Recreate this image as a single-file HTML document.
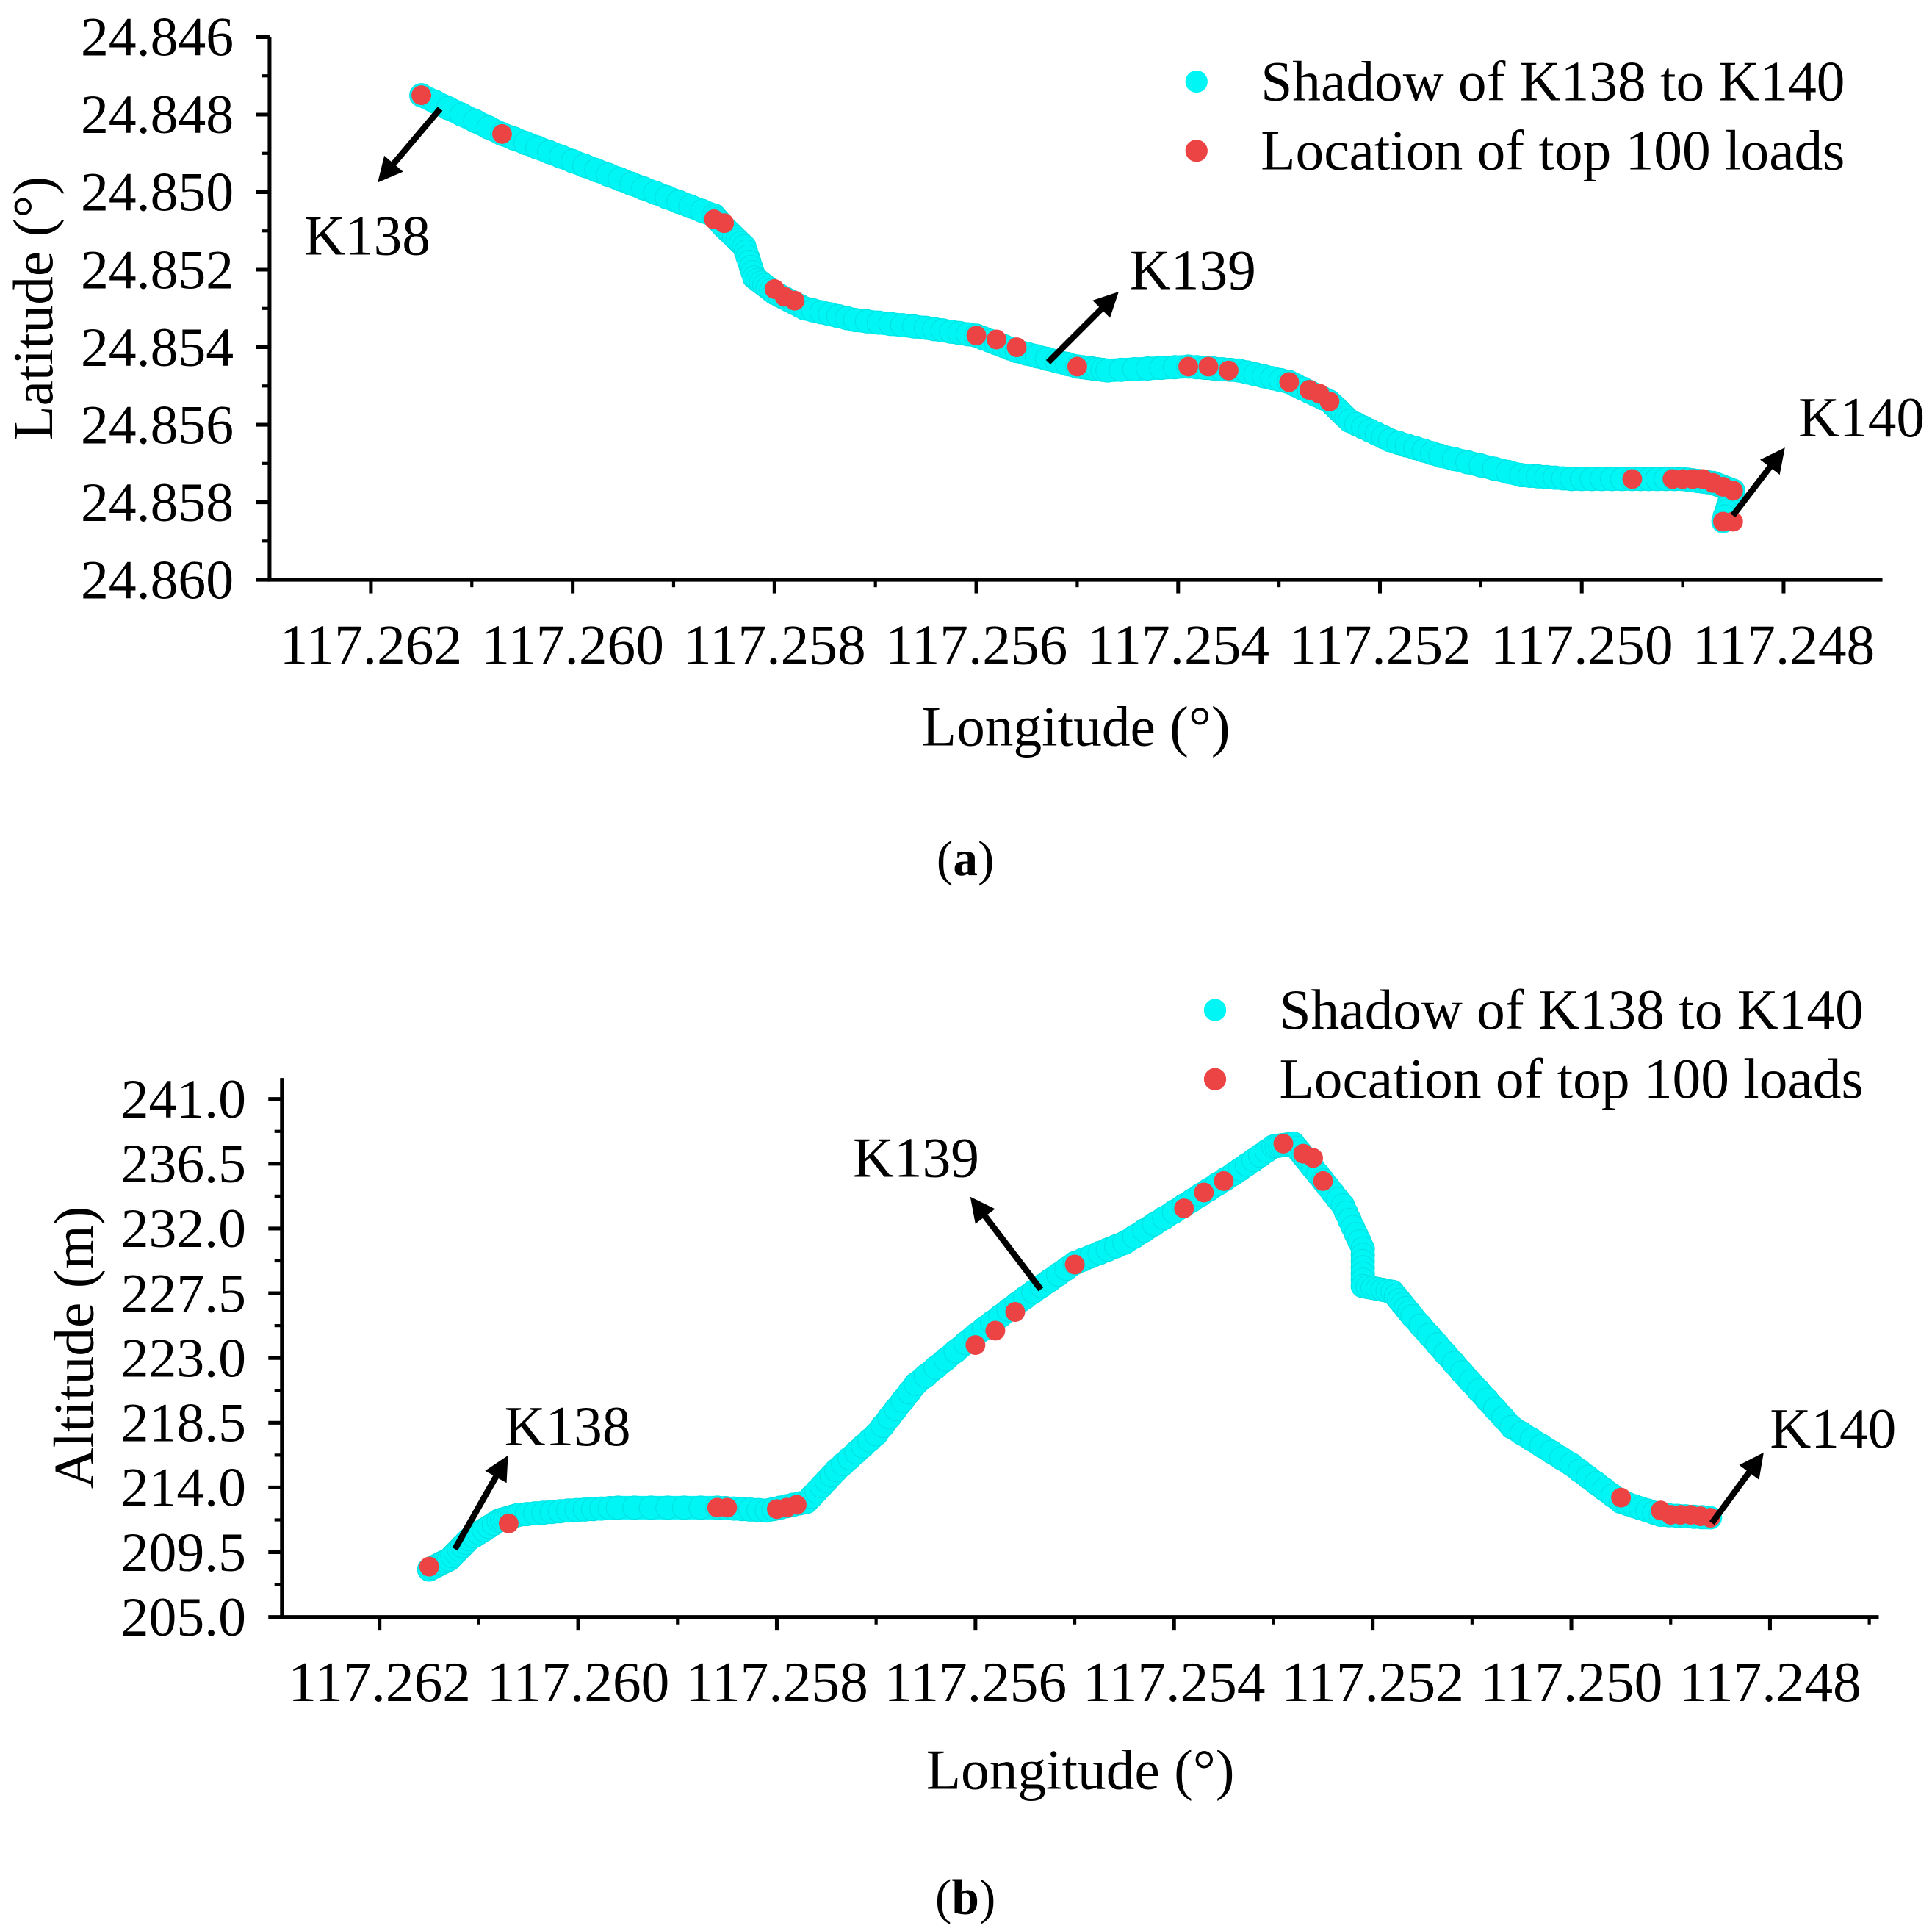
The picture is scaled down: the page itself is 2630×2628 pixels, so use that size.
<!DOCTYPE html>
<html><head><meta charset="utf-8"><style>
html,body{margin:0;padding:0;background:#fff;}
svg{display:block;}
text{font-family:"Liberation Serif",serif;fill:#000;}
</style></head><body>
<svg id="fig" width="2630" height="2628" viewBox="0 0 1563 1562" xmlns="http://www.w3.org/2000/svg">
<defs><marker id="ah" viewBox="0 0 10 10" refX="5" refY="5" markerWidth="4" markerHeight="4" orient="auto-start-reverse"><path d="M0,0 L10,5 L0,10 z" fill="#000"/></marker></defs>
<g id="ga"></g>
<g id="gb"></g>
</svg>
<script>
const lonTicks=[117.262,117.260,117.258,117.256,117.254,117.252,117.250,117.248];
const latTicks=[24.846,24.848,24.850,24.852,24.854,24.856,24.858,24.860];
const altTicks=[241.0,236.5,232.0,227.5,223.0,218.5,214.0,209.5,205.0];
const shadowLonA=[117.2615,117.2607,117.2600,117.2593,117.2586,117.2585,117.2583,117.2582,117.2580,117.2577,117.2572,117.2565,117.2560,117.2556,117.2550,117.2547,117.2539,117.2534,117.2529,117.2525,117.2523,117.2519,117.2514,117.2506,117.2501,117.2495,117.2490,117.2487,117.2485,117.2486];
const shadowLatA=[24.8475,24.8485,24.8492,24.8499,24.8506,24.8509,24.8514,24.8522,24.8526,24.8530,24.8533,24.8535,24.8537,24.8541,24.8545,24.8546,24.8545,24.8546,24.8549,24.8554,24.8559,24.8564,24.8568,24.8573,24.8574,24.8574,24.8574,24.8575,24.8577,24.8585];
const loadLonA=[117.2615,117.2607,117.2586,117.2585,117.2580,117.2579,117.2578,117.2560,117.2558,117.2556,117.2550,117.2539,117.2537,117.2535,117.2529,117.2527,117.2526,117.2525,117.2495,117.2491,117.2490,117.2489,117.2488,117.2487,117.2486,117.2485,117.2486,117.2485];
const loadLatA=[24.8475,24.8485,24.8507,24.8508,24.8525,24.8527,24.8528,24.8537,24.8538,24.8540,24.8545,24.8545,24.8545,24.8546,24.8549,24.8551,24.8552,24.8554,24.8574,24.8574,24.8574,24.8574,24.8574,24.8575,24.8576,24.8577,24.8585,24.8585];
const shadowLonB=[117.2615,117.2613,117.2611,117.2608,117.2606,117.2601,117.2596,117.2586,117.2581,117.2577,117.2574,117.2570,117.2566,117.2560,117.2555,117.2550,117.2545,117.2539,117.2534,117.2530,117.2528,117.2526,117.2523,117.2521,117.2521,117.2518,117.2516,117.2511,117.2506,117.2500,117.2495,117.2491,117.2486];
const shadowAltB=[208.3,209.0,210.4,211.7,212.1,212.4,212.6,212.6,212.4,213.0,215.2,217.7,221.2,224.6,227.2,229.6,231.0,233.6,235.8,237.7,237.9,236.2,233.6,230.6,228.0,227.6,225.9,222.0,218.2,215.6,213.0,212.1,211.9];
const loadLonB=[117.2615,117.2607,117.2586,117.2585,117.2580,117.2579,117.2578,117.2560,117.2558,117.2556,117.2550,117.2539,117.2537,117.2535,117.2529,117.2527,117.2526,117.2525,117.2495,117.2491,117.2490,117.2489,117.2488,117.2487,117.2486];
const loadAltB=[208.5,211.5,212.6,212.6,212.5,212.6,212.8,223.9,224.9,226.2,229.5,233.4,234.5,235.3,237.9,237.2,236.9,235.3,213.3,212.4,212.1,212.1,212.1,212.0,211.9];

const NS='http://www.w3.org/2000/svg';
function mk(parent,tag,attrs,txt){const e=document.createElementNS(NS,tag);for(const k in attrs)e.setAttribute(k,attrs[k]);if(txt!==undefined)e.textContent=txt;parent.appendChild(e);return e;}

function chart(g,cfg){
  const {L,R,T,B,x0px,x1px,yTicks,y0px,y1px,yFmt,xs,ys,lx,ly,ytitle,ytx,xtitleY,cap,capY,legY,legX}=cfg;
  const xS=v=>x0px+(117.262-v)/(117.262-117.248)*(x1px-x0px);
  const yS=v=>y0px+(v-yTicks[0])/(yTicks[yTicks.length-1]-yTicks[0])*(y1px-y0px);
  const pts=xs.map((v,i)=>xS(v)+','+yS(ys[i])).join(' ');
  const sh=mk(g,'polyline',{points:pts,fill:'none',stroke:'#00f5f5','stroke-width':19,'stroke-linecap':'round','stroke-linejoin':'round'});
  
  
  for(let i=0;i<xs.length-1;i++){for(let k=0;k<6;k++){const t=k/6;const cx=xS(xs[i])*(1-t)+xS(xs[i+1])*t, cy=yS(ys[i])*(1-t)+yS(ys[i+1])*t;
    const c=mk(g,'circle',{cx:cx,cy:cy,r:9.5,fill:'#00f5f5',stroke:'#00e0e0','stroke-width':0.6});
    
    }}
  lx.forEach((v,i)=>{const c=mk(g,'circle',{cx:xS(v),cy:yS(ly[i]),r:8,fill:'#ec4444'});
    
    });
  const ax=mk(g,'path',{d:`M${L},${T} L${L},${B} L${R},${B}`,fill:'none',stroke:'#000','stroke-width':3});
  
  
  yTicks.forEach((v,i)=>{const y=yS(v);mk(g,'line',{x1:L-11,x2:L,y1:y,y2:y,stroke:'#000','stroke-width':3});
    if(i<yTicks.length-1){const ym=(y+yS(yTicks[i+1]))/2;mk(g,'line',{x1:L-6,x2:L,y1:ym,y2:ym,stroke:'#000','stroke-width':2.5});}
    const t=mk(g,'text',{x:L-29,y:y+15,'text-anchor':'end','font-size':45},yFmt(v));
    
    });
  lonTicks.forEach((v,i)=>{const x=xS(v);mk(g,'line',{x1:x,x2:x,y1:B,y2:B+11,stroke:'#000','stroke-width':3});
    const t=mk(g,'text',{x:x,y:B+68,'text-anchor':'middle','font-size':46},v.toFixed(3));
    
    });
  const step=(x1px-x0px)/7/2;
  for(let x=x0px-step;x<R;x+=step){if(x>L+1)mk(g,'line',{x1:x,x2:x,y1:B,y2:B+6,stroke:'#000','stroke-width':2.5});}
  const yt=mk(g,'text',{x:0,y:0,'text-anchor':'middle','font-size':46,transform:`translate(${ytx},${(T+B)/2}) rotate(-90)`},ytitle);
  
  
  const xt=mk(g,'text',{x:(L+R)/2,y:xtitleY,'text-anchor':'middle','font-size':46},'Longitude (°)');
  
  
  const cp=mk(g,'text',{x:781,y:capY,'text-anchor':'middle','font-size':40});
  cp.innerHTML='(<tspan font-weight="bold">'+cap+'</tspan>)';
  
  
  [['#00f5f5','Shadow of K138 to K140'],['#ec4444','Location of top 100 loads']].forEach((e,i)=>{
    const lg=mk(g,'g',{});
    
    
    mk(lg,'circle',{cx:legX,cy:legY+i*56,r:9,fill:e[0]});
    mk(lg,'text',{x:legX+52,y:legY+i*56+15,'font-size':46},e[1]);});
}
function arrow(g,x1,y1,x2,y2,lab,tx,ty){
  const a=mk(g,'line',{x1:x1,y1:y1,x2:x2,y2:y2,stroke:'#000','stroke-width':5,'marker-end':'url(#ah)'});
  
  
  const t=mk(g,'text',{x:tx,y:ty,'font-size':46},lab);
  
  
}
const ga=document.getElementById('ga'),gb=document.getElementById('gb');
chart(ga,{L:218,R:1523,T:30,B:469,x0px:300,x1px:1443,yTicks:latTicks,y0px:30,y1px:469,yFmt:v=>v.toFixed(3),
  xs:shadowLonA,ys:shadowLatA,lx:loadLonA,ly:loadLatA,ytitle:'Latitude (°)',ytx:42,xtitleY:603,cap:'a',capY:708,legY:66,legX:968});
chart(gb,{L:228,R:1520,T:872,B:1308,x0px:307,x1px:1432,yTicks:altTicks,y0px:889,y1px:1308,yFmt:v=>v.toFixed(1),
  xs:shadowLonB,ys:shadowAltB,lx:loadLonB,ly:loadAltB,ytitle:'Altitude (m)',ytx:75,xtitleY:1447,cap:'b',capY:1548,legY:817,legX:983});
arrow(ga,356,88,312,140,'K138',246,206);
arrow(ga,848,293,898,243,'K139',914,234);
arrow(ga,1402,417,1438,370,'K140',1455,353);
arrow(gb,842,1043,791,976,'K139',690,952);
arrow(gb,368,1253,406,1186,'K138',408,1169);
arrow(gb,1385,1232,1421,1183,'K140',1432,1171);
</script>
</body></html>
